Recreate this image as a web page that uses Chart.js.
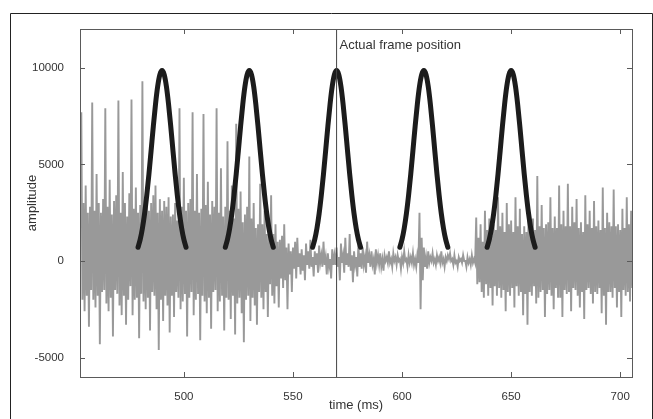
<!DOCTYPE html>
<html><head><meta charset="utf-8">
<script src="https://cdn.jsdelivr.net/npm/chart.js@4.4.1/dist/chart.umd.min.js"></script>
<style>html,body{margin:0;padding:0;background:#fff;}canvas{display:block;}</style>
</head><body>
<canvas id="c" width="653" height="419"></canvas>
<script>
const xTicks = [500, 550, 600, 650, 700];
const yTicks = [-5000, 0, 5000, 10000];
const xTitle = 'time (ms)';
const yTitle = 'amplitude';

// speech signal, one sample every 0.5 ms starting at 453 ms
const signalStartMs = 453;
const signalStepMs = 0.5;
const signalValues = [
  // 453-519
  7700,-2000, 3000,-2600, 3900,-1800, 2500,-3400, 2800,-1500,
  8200,-2000, 2600,-2400, 4500,-1800, 3000,-4300, 2500,-1600,
  3200,-1500, 7900,-2200, 2800,-2600, 4200,-1900, 2400,-3900,
  3100,-1500, 3400,-1700, 8300,-2300, 2500,-2800, 4600,-1800,
  3000,-3300, 2300,-2000, 3500,-1300, 8350,-2800, 2700,-2000,
  3800,-1900, 2500,-4000, 2900,-1700, 9300,-2100, 3100,-2500,
  3700,-1900, 2600,-3600, 3000,-1600, 3400,-1800, 3900,-2500,
  2500,-4600, 3200,-2000, 2600,-3100, 3100,-1800, 2800,-2300,
  3300,-3700, 2300,-1800, 2400,-2900, 3000,-1600, 2100,-1900,
  7900,-2500, 2800,-2100, 4300,-1700, 2600,-3900, 3000,-1900,
  3200,-1600, 7700,-2800, 2600,-2000, 4500,-1700, 2500,-4100,
  2700,-1800, 7600,-2100, 2900,-2700, 4100,-1900, 2400,-3500,
  3100,-1600, 2800,-1500, 7900,-2600, 2500,-2100, 4800,-1800,
  2300,-3600, 2800,-1900,
  // 520-547
  6200,-2000, 2600,-3000, 3900,-1800, 2200,-3800, 7100,-2200,
  2700,-1900, 3600,-2700, 2000,-4200, 2400,-2000, 2800,-1800,
  5400,-3100, 2200,-1900, 3000,-2300, 1700,-3300, 1900,-1600,
  4000,-1900, 1900,-2500, 2600,-1600, 1400,-2900, 1500,-1200,
  3400,-1800, 1400,-2200, 1900,-1300, 1000,-2400, 1100,-900,
  1300,-1400, 1900,-1000, 700,-2500,
  // 548-610
  900,-700, 500,-1600, 700,-400, 1000,-900, 1200,-300,
  400,-700, 600,-500, 300,-1000, 900,-200, 500,-400,
  1100,-300, 200,-800, 500,-200, 400,-600, 800,-100,
  300,-300, 1000,-200, 200,-700, 400,-300, 100,-900,
  600,-200, 300,-200, 700,-300, 200,-1000, 900,-100,
  300,-600, 1200,-200, 400,-300, 1400,-500, 300,-1100,
  500,-200, 200,-800, 900,-300, 400,-400, 700,-200,
  200,-600, 1000,-100, 300,-300, 500,-200, 100,-700,
  600,-100, 300,-200, 400,-300, 100,-500, 300,0,
  200,-100, 500,-100, 100,-300, 400,0, 200,-200,
  300,0, 100,-400, 200,-100, 500,0, 100,-300,
  300,-100, 200,-100, 400,-200, 100,-300, 300,-100,
  2500,-2500, 1200,-1000, 700,-300,
  // 611-633
  200,-400, 500,-100, 200,0, 400,-100, 100,-200,
  300,0, 200,-100, 500,-100, 100,-300, 200,0,
  300,100, 400,0, 100,-200, 300,-100, 0,-300,
  200,0, 100,-100, 300,0, 0,-300, 200,-100,
  100,-200, 300,-100, 100,-100,
  // 634-705
  2250,-1200, 1200,-1100, 1900,-1600, 1000,-1900, 2600,-1200,
  1600,-1800, 2200,-1400, 1300,-2300, 1900,-1300, 1600,-1800,
  3300,-1400, 1800,-1900, 2500,-1500, 1500,-2600, 3000,-1600,
  1900,-1800, 2100,-1400, 1500,-2400, 3300,-1300, 1800,-1800,
  2700,-1600, 1400,-2800, 1800,-1700, 1500,-3300, 2900,-1600,
  1900,-1800, 2200,-1300, 1600,-2200, 4400,-1900, 1800,-1600,
  2900,-1500, 1700,-2900, 1900,-1700, 2000,-1500, 3300,-1800,
  1700,-2500, 2300,-1400, 1700,-1900, 3900,-1900, 1900,-2900,
  2600,-1500, 1800,-1700, 4000,-1600, 1800,-2600, 2800,-1400,
  2000,-1500, 3200,-1800, 1700,-2400, 2000,-1600, 1500,-3000,
  3400,-1500, 1900,-1400, 2600,-1700, 1700,-2200, 3100,-1600,
  1800,-1700, 2100,-1400, 1600,-2700, 3800,-1800, 1700,-3300,
  2500,-1600, 2000,-1600, 1800,-1900, 3700,-1400, 1800,-2400,
  1900,-1600, 1600,-2900, 2700,-1500, 1700,-1800, 3300,-1600,
  1900,-2100, 2600,-1400
];

// frame window pulses
const pulseCentersMs = [490, 530, 570, 610, 650];
const pulseOffsetsMs = [-11,-10,-9,-8,-7,-6,-5,-4,-3,-2,-1,0,1,2,3,4,5,6,7,8,9,10,11];
const pulseShape = [710,1120,1690,2450,3400,4500,5720,6960,8100,9030,9640,9850,9640,9030,8100,6960,5720,4500,3400,2450,1690,1120,710];

const frameMs = 570;
const frameLabel = 'Actual frame position';
const yRange = [-6000, 12000];
const xRange = [452.4, 705.4];

const FONT = '"Liberation Sans", Arial, Helvetica, sans-serif';

const signalPoints = signalValues.map((v, i) => ({x: signalStartMs + i * signalStepMs, y: v}));
const pulseSets = pulseCentersMs.map(c => ({
  data: pulseOffsetsMs.map((o, i) => ({x: c + o, y: pulseShape[i]})),
  borderColor: '#1c1c1c', borderWidth: 5, pointRadius: 0,
  cubicInterpolationMode: 'monotone', borderCapStyle: 'round', borderJoinStyle: 'round', fill: false
}));

const decor = {
  id: 'decor',
  afterDraw(chart) {
    const {ctx, chartArea: a, scales: {x, y}} = chart;
    ctx.save();
    ctx.strokeStyle = '#222'; ctx.lineWidth = 1;
    ctx.beginPath();
    ctx.moveTo(10.5, 419); ctx.lineTo(10.5, 13.5); ctx.lineTo(652.5, 13.5); ctx.lineTo(652.5, 419);
    ctx.stroke();
    ctx.strokeStyle = '#5a5a5a';
    ctx.strokeRect(Math.round(a.left) + 0.5, Math.round(a.top) + 0.5, Math.round(a.right - a.left), Math.round(a.bottom - a.top));
    const tl = 5;
    ctx.beginPath();
    xTicks.forEach(v => {
      const p = Math.round(x.getPixelForValue(v)) + 0.5;
      ctx.moveTo(p, a.bottom); ctx.lineTo(p, a.bottom - tl);
      ctx.moveTo(p, a.top); ctx.lineTo(p, a.top + tl);
    });
    yTicks.forEach(v => {
      const p = Math.round(y.getPixelForValue(v)) + 0.5;
      ctx.moveTo(a.left, p); ctx.lineTo(a.left + tl, p);
      ctx.moveTo(a.right, p); ctx.lineTo(a.right - tl, p);
    });
    ctx.stroke();
    ctx.fillStyle = '#333';
    ctx.font = '13px ' + FONT;
    ctx.textBaseline = 'middle';
    ctx.fillText(frameLabel, x.getPixelForValue(frameMs) + 3, 45);
    ctx.restore();
  }
};

new Chart(document.getElementById('c'), {
  type: 'line',
  data: {
    datasets: [
      { data: [{x: frameMs, y: yRange[0]}, {x: frameMs, y: yRange[1]}], borderColor: '#444', borderWidth: 1, pointRadius: 0, fill: false },
      ...pulseSets,
      { data: signalPoints, borderColor: '#999999', borderWidth: 1.9, pointRadius: 0, tension: 0, fill: false }
    ]
  },
  options: {
    responsive: false, animation: false, devicePixelRatio: 1,
    layout: {padding: {left: 0, right: 21, top: 29, bottom: 0}},
    plugins: {legend: {display: false}, tooltip: {enabled: false}},
    scales: {
      x: {
        type: 'linear', min: xRange[0], max: xRange[1],
        grid: {display: false}, border: {display: false},
        afterBuildTicks: s => { s.ticks = xTicks.map(v => ({value: v})); },
        afterFit: s => { s.height = 42; },
        ticks: {padding: 5, color: '#333', font: {size: 11.5, family: FONT}, maxRotation: 0, autoSkip: false, callback: v => String(v)},
        title: {display: true, text: xTitle, color: '#333', font: {size: 13, family: FONT}, padding: {top: 0, bottom: 6}}
      },
      y: {
        type: 'linear', min: yRange[0], max: yRange[1],
        grid: {display: false}, border: {display: false},
        afterBuildTicks: s => { s.ticks = yTicks.map(v => ({value: v})); },
        afterFit: s => { s.width = 80; },
        ticks: {padding: 8, color: '#333', font: {size: 11.5, family: FONT}, callback: v => String(v)},
        title: {display: true, text: yTitle, color: '#333', font: {size: 13, family: FONT}, padding: {top: 25, bottom: 0}}
      }
    }
  },
  plugins: [decor]
});
</script>
</body></html>
